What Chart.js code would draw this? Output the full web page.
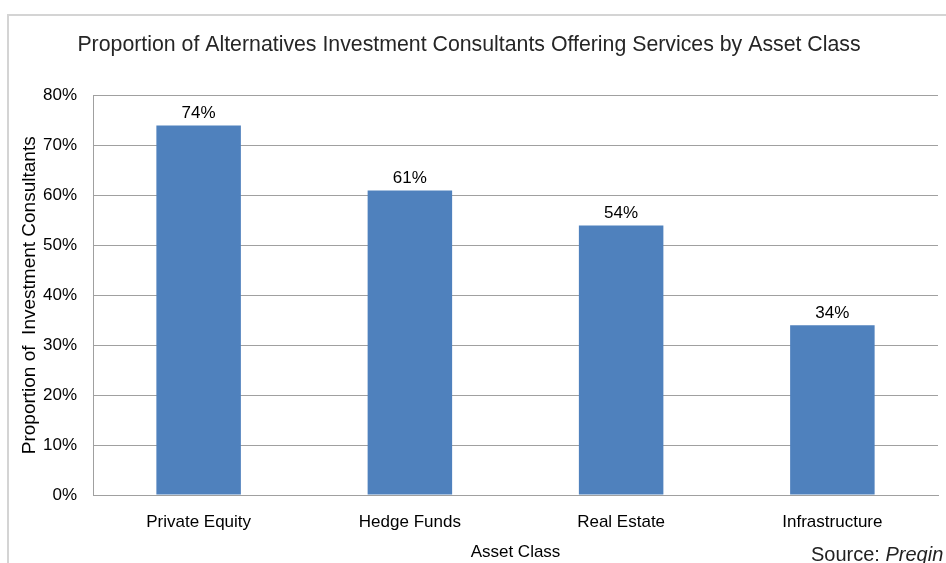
<!DOCTYPE html>
<html>
<head>
<meta charset="utf-8">
<script src="https://cdn.jsdelivr.net/npm/chart.js@4"></script>
<style>
  body { margin: 0; background: #fff; }
  #wrap { width: 946px; height: 563px; }
</style>
</head>
<body>
<div id="wrap"><canvas id="myChart" width="946" height="563"></canvas></div>
<script>
const categories = ['Private Equity', 'Hedge Funds', 'Real Estate', 'Infrastructure'];
const proportions = [74, 61, 54, 34];
const yTicks = [0, 10, 20, 30, 40, 50, 60, 70, 80];
const chartTitle = 'Proportion of Alternatives Investment Consultants Offering Services by Asset Class';
const yTitle = 'Proportion of  Investment Consultants';
const xTitle = 'Asset Class';

const FONT = "'Liberation Sans', Arial, sans-serif";

// frame, bar labels and the source note
const extras = {
    id: 'extras',
    beforeDraw(chart) {
        const ctx = chart.ctx;
        ctx.save();
        ctx.strokeStyle = '#d4d4d4';
        ctx.lineWidth = 2;
        ctx.beginPath();
        ctx.moveTo(8, 563);
        ctx.lineTo(8, 15);
        ctx.lineTo(946, 15);
        ctx.stroke();
        ctx.restore();
    },
    afterDatasetsDraw(chart) {
        const ctx = chart.ctx;
        ctx.save();
        ctx.font = '17px ' + FONT;
        ctx.fillStyle = '#000';
        ctx.textAlign = 'center';
        ctx.textBaseline = 'middle';
        chart.getDatasetMeta(0).data.forEach((bar, i) => {
            ctx.fillText(proportions[i] + '%', bar.x, bar.y - 12);
        });
        ctx.textAlign = 'left';
        ctx.textBaseline = 'alphabetic';
        ctx.font = '20px ' + FONT;
        ctx.fillStyle = '#222';
        ctx.fillText('Source: ', 811, 561);
        const w = ctx.measureText('Source: ').width;
        ctx.font = 'italic 20px ' + FONT;
        ctx.fillText('Preqin', 811 + w, 561);
        ctx.restore();
    }
};

Chart.defaults.font.family = FONT;
Chart.defaults.color = '#000';

const ctx = document.getElementById('myChart').getContext('2d');
const myChart = new Chart(ctx, {
    type: 'bar',
    data: {
        labels: categories,
        datasets: [{
            label: 'Proportion',
            data: proportions,
            backgroundColor: '#4f81bd',
            borderWidth: 0,
            categoryPercentage: 1,
            barPercentage: 0.4
        }]
    },
    options: {
        responsive: false,
        animation: false,
        layout: { padding: { left: 0, right: 8, top: 0, bottom: 0 } },
        plugins: {
            legend: { display: false },
            tooltip: { enabled: false },
            title: {
                display: true,
                text: chartTitle,
                color: '#262626',
                font: { size: 21.3, weight: 'normal' },
                padding: { top: 32, bottom: 38 }
            }
        },
        scales: {
            x: {
                grid: { display: false },
                border: { display: true, color: '#a0a0a0', width: 1 },
                ticks: { font: { size: 17 }, padding: 9, color: '#000' },
                title: {
                    display: true,
                    text: xTitle,
                    font: { size: 17 },
                    padding: { top: 0, bottom: 0 }
                },
                afterFit: (s) => { s.height = 68; }
            },
            y: {
                min: 0,
                max: 80,
                afterBuildTicks: (s) => { s.ticks = yTicks.map(v => ({ value: v })); },
                grid: { color: '#a0a0a0', drawTicks: false },
                border: { display: true, color: '#a0a0a0', width: 1 },
                ticks: {
                    font: { size: 17 },
                    padding: 16,
                    color: '#000',
                    callback: (v) => v + '%'
                },
                title: {
                    display: true,
                    text: yTitle,
                    font: { size: 19 },
                    padding: { top: 18, bottom: 0 }
                },
                afterFit: (s) => { s.width = 93; }
            }
        }
    },
    plugins: [extras]
});
</script>
</body>
</html>
